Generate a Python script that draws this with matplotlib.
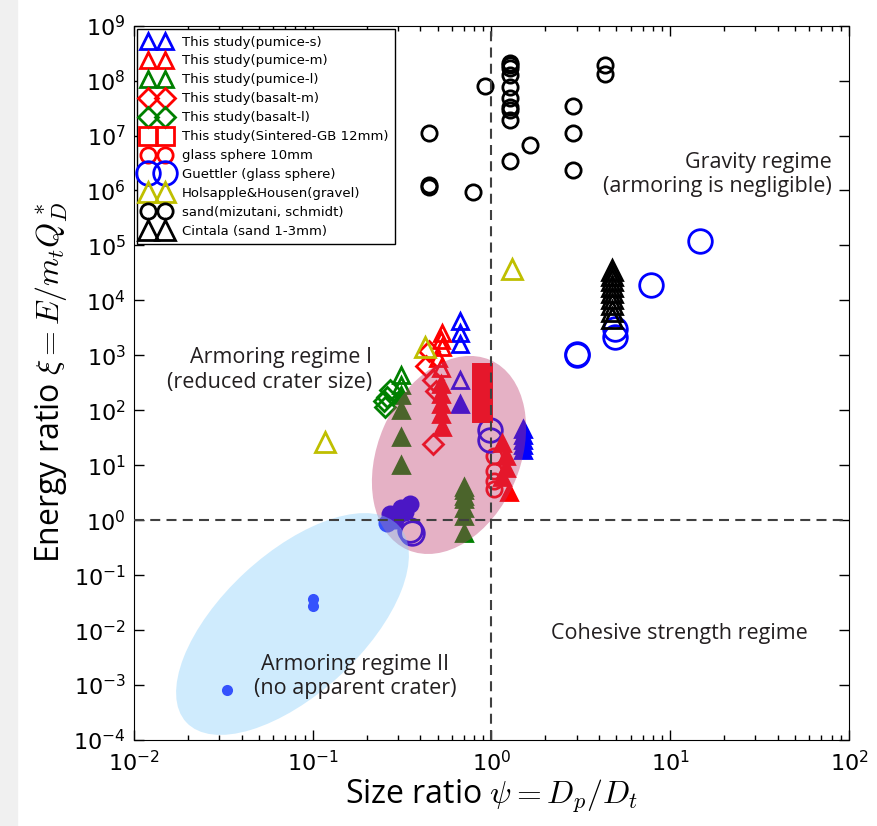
import numpy as np
import matplotlib
matplotlib.use('Agg')
import matplotlib.pyplot as plt
from matplotlib.patches import Ellipse, Rectangle
from matplotlib.ticker import LogLocator, NullLocator

plt.rcParams['mathtext.fontset'] = 'cm'

# ---- data (psi = Dp/Dt, xi = E/mt QD*) ----
pumice_s_x = [0.67, 0.67, 0.67, 0.67]
pumice_s_y = [4200, 2600, 1600, 350]
pumice_s_fill_x = [0.67, 1.5, 1.5, 1.5, 1.5, 1.5]
pumice_s_fill_y = [130, 45, 36, 29, 23, 19]

pumice_m_x = [0.53, 0.52, 0.53, 0.50, 0.52]
pumice_m_y = [2500, 1900, 1400, 900, 600]
pumice_m_fill_x = [0.52, 0.52, 0.52, 0.52, 0.53, 1.15, 1.2, 1.2, 1.15, 1.25]
pumice_m_fill_y = [300, 200, 130, 85, 50, 25, 15, 9, 6, 3.3]

pumice_l_x = [0.31, 0.31, 0.70, 0.70]
pumice_l_y = [430, 290, 4.0, 2.8]
pumice_l_fill_x = [0.31, 0.31, 0.31, 0.31, 0.70, 0.70, 0.70, 0.70, 0.70]
pumice_l_fill_y = [190, 100, 32, 10, 3.5, 2.4, 1.7, 1.2, 0.58]

basalt_m_x = [0.45, 0.43, 0.47, 0.49, 0.47]
basalt_m_y = [1200, 650, 350, 220, 24]

basalt_l_x = [0.25, 0.26, 0.27, 0.255]
basalt_l_y = [150, 175, 235, 115]

sintered_x = [0.88, 0.88, 0.88, 0.88, 0.88, 0.88]
sintered_y = [480, 350, 250, 180, 130, 95]

glass10_x = [1.03, 1.03, 1.03, 1.03]
glass10_y = [15, 8, 5.2, 3.7]

guettler_x = [14.7, 7.8, 4.9, 4.9, 3.0, 3.0, 0.98, 0.98, 0.35, 0.36]
guettler_y = [1.2e5, 1.9e4, 3000, 2200, 1000, 1050, 43, 29, 0.66, 0.58]

holsapple_x = [0.117, 0.425, 1.30]
holsapple_y = [27, 1400, 38000]

sand_x = [0.45, 0.45, 0.45, 0.79, 0.92,
          1.27, 1.27, 1.27, 1.27, 1.27, 1.27, 1.27, 1.27, 1.27,
          1.27, 1.64, 2.86, 2.86, 2.86, 4.3, 4.3]
sand_y = [1.1e7, 1.25e6, 1.15e6, 9.3e5, 7.9e7,
          2.1e8, 1.9e8, 1.7e8, 1.25e8, 7.6e7, 4.8e7, 3.3e7, 2.9e7, 1.9e7,
          3.5e6, 6.6e6, 3.4e7, 1.1e7, 2.4e6, 1.9e8, 1.3e8]

cintala_x = [4.7] * 9
cintala_y = [36000, 29000, 23000, 18000, 14000, 11000, 8500, 6500, 4800]

nocrater_x = [0.1, 0.1, 0.033]
nocrater_y = [0.037, 0.027, 0.0008]
small_x = [0.35, 0.31, 0.27, 0.26, 0.29, 0.33]
small_y = [2.0, 1.65, 1.3, 0.9, 1.0, 1.4]

fig = plt.figure(figsize=(8.77, 8.26), dpi=100)
fig.patches.append(Rectangle((0, 0), 17 / 877, 1, transform=fig.transFigure,
                             color='#f0f0f0', zorder=-1))
ax = fig.add_axes([0.1528, 0.1041, 0.8152, 0.8649])


def pts(x, y, marker, color, ms, filled=False, label=None, mew=2):
    ax.plot(x, y, linestyle='none', marker=marker, ms=ms, mec=color,
            mfc=color if filled else 'none', mew=mew, label=label, zorder=2)


pts(pumice_s_x, pumice_s_y, '^', 'b', 12, label='This study(pumice-s)')
pts(pumice_m_x, pumice_m_y, '^', 'r', 12, label='This study(pumice-m)')
pts(pumice_l_x, pumice_l_y, '^', 'g', 12, label='This study(pumice-l)')
pts(basalt_m_x, basalt_m_y, 'D', 'r', 10, label='This study(basalt-m)')
pts(basalt_l_x, basalt_l_y, 'D', 'g', 10, label='This study(basalt-l)')
pts(sintered_x, sintered_y, 's', 'r', 13, label='This study(Sintered-GB 12mm)')
pts(glass10_x, glass10_y, 'o', 'r', 11, label='glass sphere 10mm')
pts(guettler_x, guettler_y, 'o', 'b', 17, label='Guettler (glass sphere)')
pts(holsapple_x, holsapple_y, '^', 'y', 15, label='Holsapple&Housen(gravel)')
pts(sand_x, sand_y, 'o', 'k', 11, label='sand(mizutani, schmidt)')
pts(cintala_x, cintala_y, '^', 'k', 14, label='Cintala (sand 1-3mm)')

# filled symbols (no entry in the legend)
pts(pumice_s_fill_x, pumice_s_fill_y, '^', 'b', 12, filled=True)
pts(pumice_m_fill_x, pumice_m_fill_y, '^', 'r', 12, filled=True)
pts(pumice_l_fill_x, pumice_l_fill_y, '^', 'g', 12, filled=True)
pts(sintered_x, sintered_y, 's', 'r', 13, filled=True)
pts(nocrater_x, nocrater_y, 'o', 'b', 8, filled=True, mew=0)
pts(small_x, small_y, 'o', 'b', 13, filled=True, mew=0)

# regime shading (axes fraction, the axes box is square in pixels)
ax.add_patch(Ellipse((0.4406, 0.399), 0.1986, 0.2897, angle=-23.5,
                     transform=ax.transAxes, facecolor=(0.745, 0.235, 0.43),
                     edgecolor='none', alpha=0.4, zorder=3))
ax.add_patch(Ellipse((0.2217, 0.1624), 0.405, 0.196, angle=42.8,
                     transform=ax.transAxes, facecolor='lightskyblue',
                     edgecolor='none', alpha=0.4, zorder=3))

ax.axvline(1, color='0.25', lw=1.5, dashes=(4.8, 3), zorder=4)
ax.axhline(1, color='0.25', lw=1.5, dashes=(4.8, 3), zorder=4)

tfont = dict(family='Open Sans', fontsize=15.5, color='#231f20', va='center')
ax.text(80, 1.97e6, 'Gravity regime\n(armoring is negligible)',
        ha='right', multialignment='right', **tfont)
ax.text(0.214, 540, 'Armoring regime I\n(reduced crater size)',
        ha='right', multialignment='right', **tfont)
ax.text(11.3, 0.0088, 'Cohesive strength regime', ha='center', **tfont)
ax.text(0.172, 0.00145, 'Armoring regime II\n(no apparent crater)',
        ha='center', multialignment='center', **tfont)

ax.set_xscale('log')
ax.set_yscale('log')
ax.set_xlim(1e-2, 1e2)
ax.set_ylim(1e-4, 1e9)
ax.yaxis.set_major_locator(LogLocator(base=10, numticks=20))
ax.yaxis.set_minor_locator(NullLocator())
ax.tick_params(which='both', direction='in', top=True, right=True, labelsize=16)
ax.tick_params(which='major', length=7, width=1)
ax.tick_params(which='minor', length=3.5, width=1)
ax.tick_params(axis='x', which='major', pad=7)
ax.tick_params(axis='y', which='major', pad=6)

ax.set_xlabel(r'Size ratio $\psi = D_p/D_t$', family='Open Sans', fontsize=23, labelpad=2)
ax.set_ylabel(r'Energy ratio $\xi = E/m_tQ^*_D$', family='Open Sans', fontsize=23, labelpad=2)

leg = ax.legend(loc='upper left', numpoints=2, fontsize=9.5, fancybox=False,
                edgecolor='k', framealpha=1, borderaxespad=0.25,
                handlelength=1.9, handletextpad=1.0, labelspacing=0.45,
                borderpad=0.5)
leg.set_zorder(5)
leg.get_frame().set_linewidth(1)

fig.savefig('out.png', dpi=100)
